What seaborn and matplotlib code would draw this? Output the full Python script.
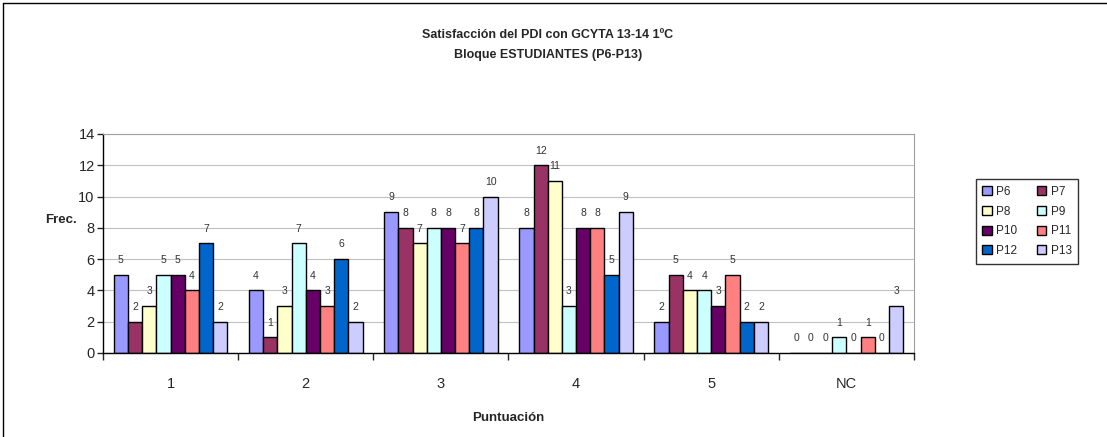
import matplotlib
matplotlib.use("Agg")
import matplotlib.pyplot as plt
import seaborn as sns
import pandas as pd
from matplotlib.lines import Line2D

categories = ["1", "2", "3", "4", "5", "NC"]
series = ["P6", "P7", "P8", "P9", "P10", "P11", "P12", "P13"]
values = {
    "P6":  [5, 4, 9, 8, 2, 0],
    "P7":  [2, 1, 8, 12, 5, 0],
    "P8":  [3, 3, 7, 11, 4, 0],
    "P9":  [5, 7, 8, 3, 4, 1],
    "P10": [5, 4, 8, 8, 3, 0],
    "P11": [4, 3, 7, 8, 5, 1],
    "P12": [7, 6, 8, 5, 2, 0],
    "P13": [2, 2, 10, 9, 2, 3],
}
colors = ["#9999FF", "#993366", "#FFFFCC", "#CCFFFF", "#660066", "#FF8080", "#0066CC", "#CCCCFF"]

rows = []
for s in series:
    for c, v in zip(categories, values[s]):
        rows.append({"Puntuación": c, "Serie": s, "Frec": v})
df = pd.DataFrame(rows)

sns.set_style("white")
plt.rcParams["font.family"] = ["Liberation Sans", "DejaVu Sans"]

fig = plt.figure(figsize=(11.07, 4.37), dpi=100)
ax = fig.add_axes([103/1107, 1-353/437, (914-103)/1107, (353-134)/437])

sns.barplot(data=df, x="Puntuación", y="Frec", hue="Serie", order=categories,
            hue_order=series, palette=colors, width=0.84, gap=0,
            edgecolor="black", linewidth=1.0, ax=ax, legend=True, saturation=1)

for cont in ax.containers:
    ax.bar_label(cont, padding=7, fontsize=7.5, color="#333333")

ax.set_ylim(0, 14)
ax.set_yticks(range(0, 15, 2))
ax.set_xlim(-0.5, len(categories) - 0.5)
ax.yaxis.grid(True, color="#C0C0C0", linewidth=0.8)
ax.set_axisbelow(True)
ax.set_xlabel("")
ax.set_ylabel("")

for side in ["top", "right"]:
    ax.spines[side].set_visible(True)
    ax.spines[side].set_color("#A0A0A0")
for side in ["left", "bottom"]:
    ax.spines[side].set_color("black")
    ax.spines[side].set_linewidth(1.0)

ax.tick_params(axis="y", which="major", direction="out", length=4, width=1,
               labelsize=10.5, left=True, pad=2)
ax.set_xticks(range(len(categories)))
ax.set_xticklabels(categories)
ax.tick_params(axis="x", which="major", length=0, labelsize=10.5, pad=17)
ax.set_xticks([i + 0.5 for i in range(-1, len(categories))], minor=True)
ax.tick_params(axis="x", which="minor", direction="out", length=5, width=1, bottom=True)

handles, labels = ax.get_legend_handles_labels()
order = [0, 2, 4, 6, 1, 3, 5, 7]
ax.get_legend().remove()
leg = ax.legend([handles[i] for i in order], [labels[i] for i in order],
                loc="center", bbox_to_anchor=(1027/1107, 1-221.5/437),
                bbox_transform=fig.transFigure, ncol=2, fontsize=8.5, frameon=True,
                fancybox=False, edgecolor="black", handlelength=0.8, handleheight=0.8,
                columnspacing=1.6, handletextpad=0.4, labelspacing=0.65, borderpad=0.55)
leg.get_frame().set_linewidth(1.0)
for h in leg.legend_handles:
    h.set_edgecolor("black")
    h.set_linewidth(1.0)

fig.text(0.495, 1-35/437, "Satisfacción del PDI con GCYTA 13-14 1ºC", ha="center",
         va="center", fontsize=9, fontweight="bold")
fig.text(0.495, 1-55/437, "Bloque ESTUDIANTES (P6-P13)", ha="center",
         va="center", fontsize=9, fontweight="bold")
fig.text(61/1107, 1-220/437, "Frec.", ha="center", va="center", fontsize=9.5,
         fontweight="bold")
fig.text(508/1107, 1-418/437, "Puntuación", ha="center", va="center", fontsize=9.5,
         fontweight="bold")

fig.add_artist(Line2D([3/1107, 3/1107], [0, 1-3/437], color="black", linewidth=1.0,
                      transform=fig.transFigure))
fig.add_artist(Line2D([3/1107, 1], [1-3/437, 1-3/437], color="black", linewidth=1.0,
                      transform=fig.transFigure))

fig.savefig("out.png", dpi=100)
